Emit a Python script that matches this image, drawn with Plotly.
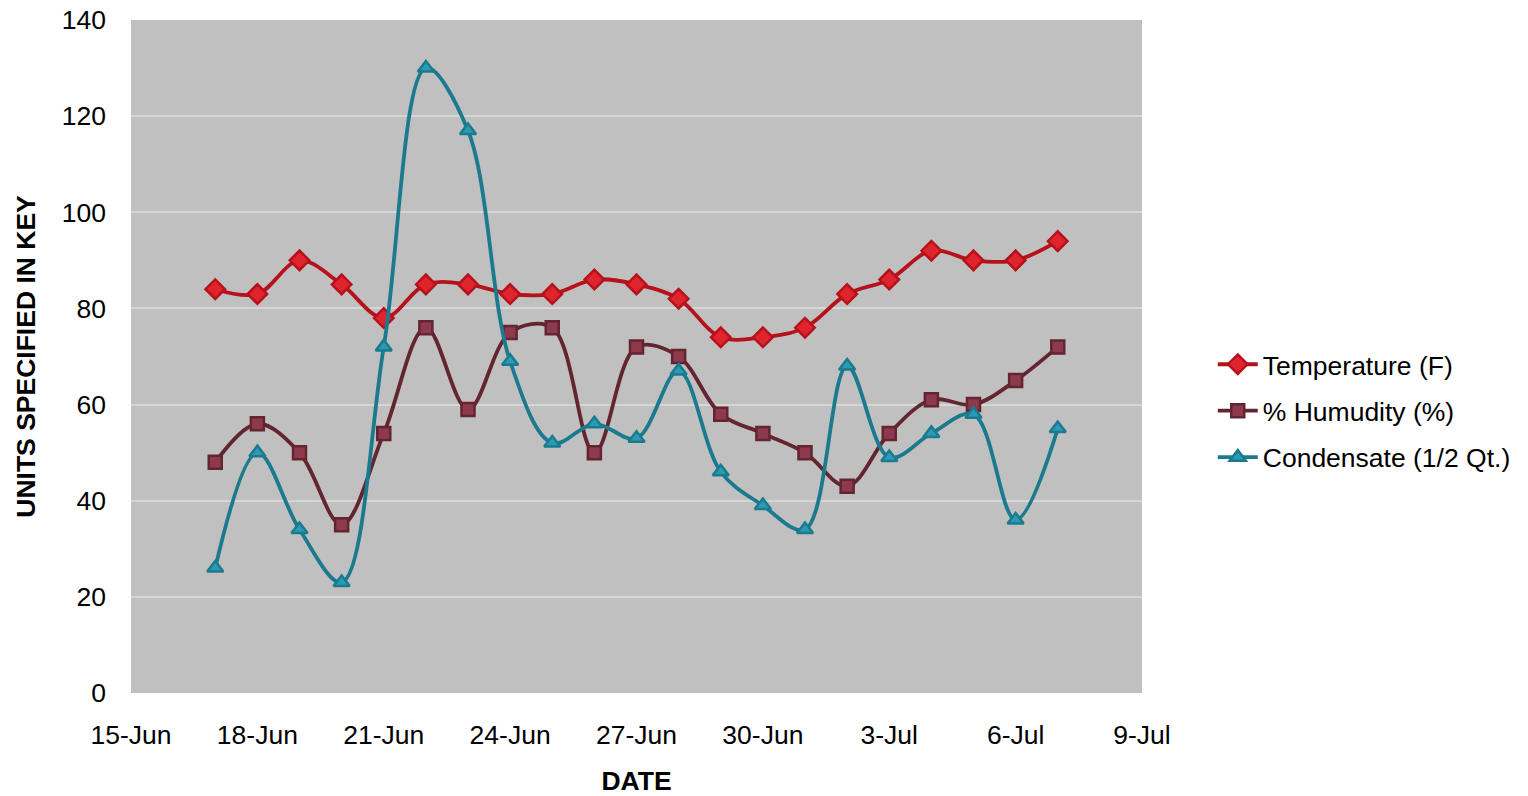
import plotly.graph_objects as go
import pandas as pd

dates = pd.date_range("2012-06-17", "2012-07-07", freq="D")

temperature = [84, 83, 90, 85, 78, 85, 85, 83, 83, 86, 85, 82, 74, 74, 76, 83, 86, 92, 90, 90, 94]
humidity = [48, 56, 50, 35, 54, 76, 59, 75, 76, 50, 72, 70, 58, 54, 50, 43, 54, 61, 60, 65, 72]
condensate = [26, 50, 34, 23, 72, 130, 117, 69, 52, 56, 53, 67, 46, 39, 34, 68, 49, 54, 58, 36, 55]

series = [
    ("Temperature (F)", temperature, "#B5121B", "#E0242E", "diamond", 15),
    ("% Humudity (%)", humidity, "#632530", "#8C3A4C", "square", 13),
    ("Condensate (1/2 Qt.)", condensate, "#1B7A8E", "#2A9BB5", "triangle-up", 14),
]

fig = go.Figure()
for i, (name, vals, line_col, fill_col, sym, size) in enumerate(series):
    fig.add_trace(go.Scatter(
        x=dates, y=vals, name=name, mode="lines+markers", legendgroup=f"g{i}",
        line=dict(color=line_col, width=3.8, shape="spline", smoothing=1.0),
        marker=dict(symbol=sym, size=size, color=fill_col,
                    line=dict(color=line_col, width=2.5)),
    ))

font = "Liberation Sans, Arial, sans-serif"
fs = 26.5
fig.update_layout(
    width=1528, height=796,
    margin=dict(l=131, r=386, t=20, b=103),
    paper_bgcolor="white", plot_bgcolor="#C0C0C0",
    font=dict(family=font, size=fs, color="black"),
    legend=dict(x=1.07, y=0.419, xanchor="left", yanchor="middle",
                font=dict(size=fs), tracegroupgap=9, itemwidth=40),
    xaxis=dict(
        range=["2012-06-15", "2012-07-09"], automargin=False,
        tick0="2012-06-15", dtick=3 * 86400000, tickformat="%-d-%b",
        showgrid=False, zeroline=False, showline=False,
        ticklabelstandoff=23,
        title=dict(text="<b>DATE</b>", font=dict(size=fs), standoff=29),
    ),
    yaxis=dict(
        range=[0, 140], dtick=20, automargin=False,
        showgrid=True, gridcolor="#D6D6D6", gridwidth=1.5,
        zeroline=False, showline=False,
        ticklabelstandoff=24,
        title=dict(text="<b>UNITS SPECIFIED IN KEY</b>", font=dict(size=fs), standoff=18),
    ),
)

fig.write_html("out.html")
